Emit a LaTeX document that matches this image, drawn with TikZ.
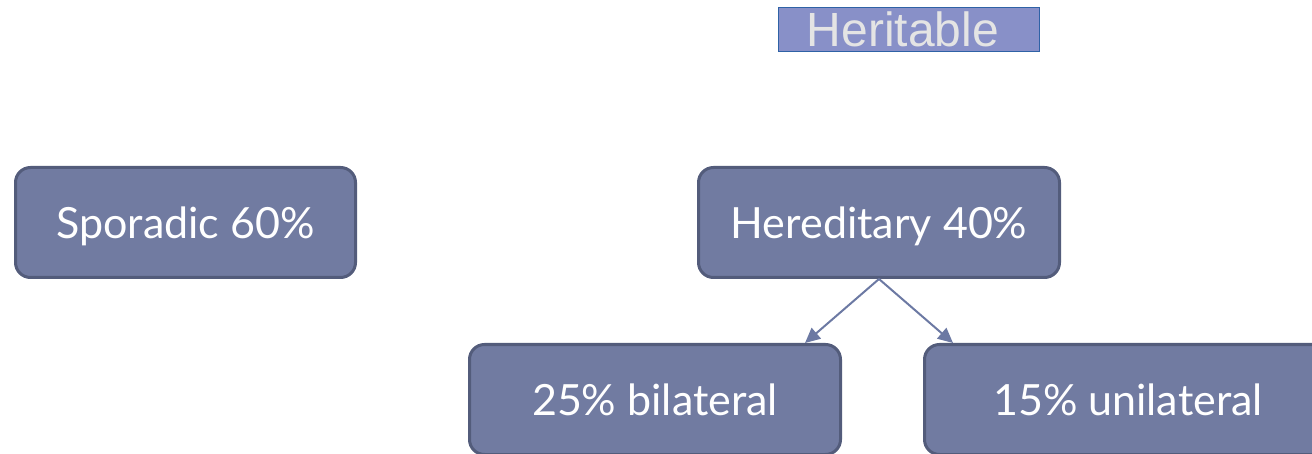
\documentclass[tikz,border=0pt]{standalone}
\usepackage{fontspec}
\setmainfont{Lato}
\newfontfamily\arialfont{Liberation Sans}
\usetikzlibrary{arrows.meta}
\definecolor{boxfill}{HTML}{717BA1}
\definecolor{boxline}{HTML}{535C7B}
\definecolor{arrowcol}{HTML}{6C79A3}
\definecolor{herfill}{HTML}{8890C8}
\definecolor{herline}{HTML}{2F62A6}
\definecolor{hertext}{HTML}{E4E4E4}
\begin{document}
\begin{tikzpicture}[x=1pt,y=-1pt]
\useasboundingbox (0,0) rectangle (1312,454);
\clip (0,0) rectangle (1312,454);
\tikzstyle{box}=[draw=boxline,line width=3pt,fill=boxfill,rounded corners=15pt,text=white,font=\fontsize{43}{48}\selectfont,minimum height=110pt,inner sep=0pt,text depth=0pt];
\tikzstyle{link}=[draw=arrowcol,line width=2pt,-{Triangle[length=15pt,width=14pt]}];
\node[draw=herline,line width=1.5pt,fill=herfill,text=hertext,minimum width=261pt,minimum height=44pt,inner sep=0pt,font=\arialfont\fontsize{48}{52}\selectfont] (herit) at (909,29.5) {\hspace*{-12pt}Heritable};
\node[box,minimum width=340pt] (spor) at (185.5,222.5) {Sporadic 60\%};
\node[box,minimum width=361pt] (hered) at (879,222.5) {Hereditary 40\%};
\node[box,minimum width=371pt] (bilat) at (655,399.5) {25\% bilateral};
\node[box,minimum width=407pt] (unilat) at (1128,399.5) {15\% unilateral};
\draw[link] (hered.south) -- ([xshift=-37pt]bilat.north east);
\draw[link] (hered.south) -- ([xshift=30pt]unilat.north west);
\end{tikzpicture}
\end{document}
